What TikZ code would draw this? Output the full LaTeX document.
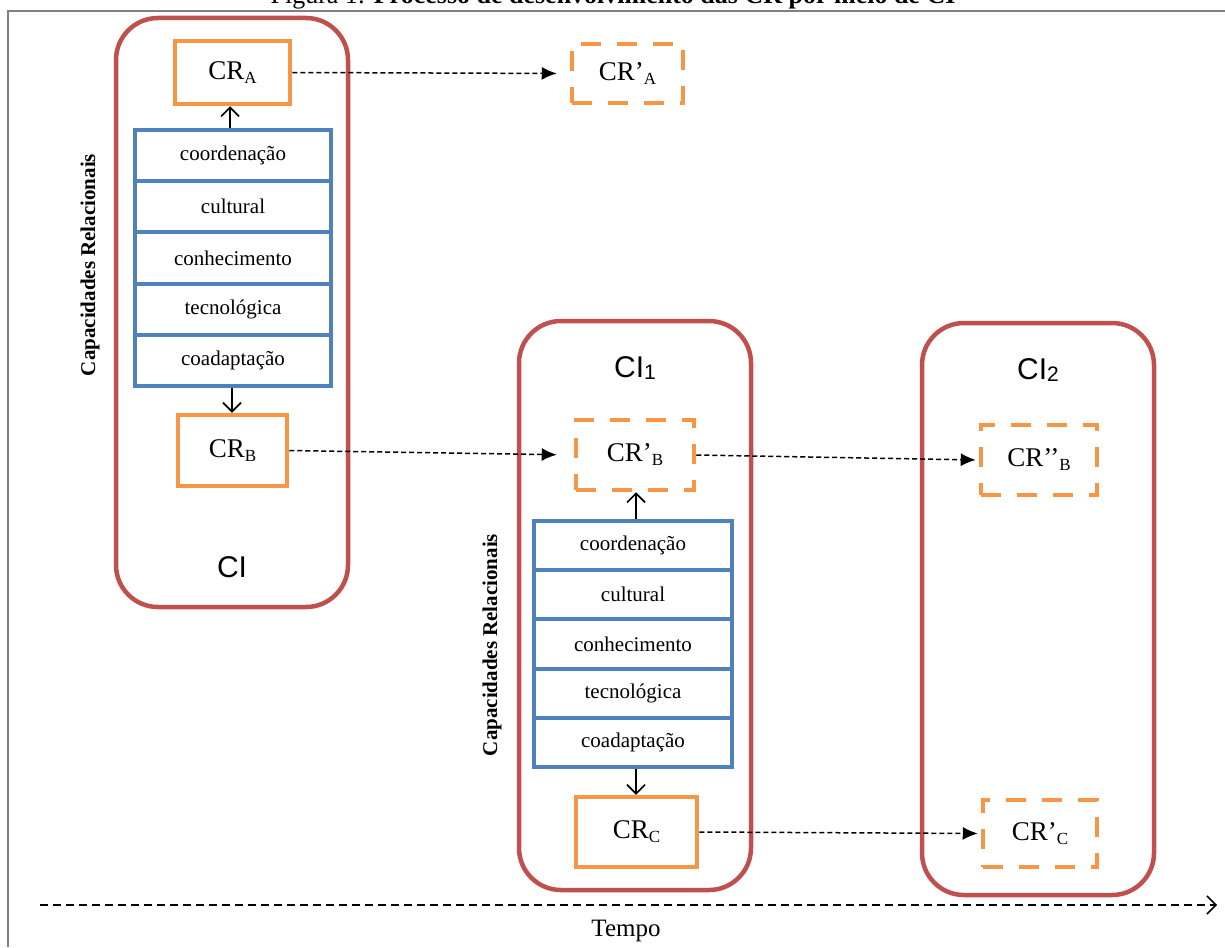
\documentclass[tikz,border=0pt]{standalone}
\usepackage{fontspec}
\setmainfont{Liberation Serif}
\newfontfamily\arialf{Liberation Sans}
\usetikzlibrary{arrows.meta}
\definecolor{cired}{RGB}{192,80,77}
\definecolor{crorange}{RGB}{247,150,70}
\definecolor{capblue}{RGB}{79,129,189}
\definecolor{framegray}{RGB}{128,128,128}
\newcommand\crsub[1]{\raisebox{-4pt}{\fontsize{17}{17}\selectfont #1}}
\newcommand\cisub[1]{\raisebox{-2pt}{\fontsize{21}{21}\selectfont #1}}
\begin{document}
\begin{tikzpicture}[x=1pt,y=-1pt,
 cibox/.style={draw=cired,line width=4.5pt,rounded corners=42pt,inner sep=0pt},
 crbox/.style={draw=crorange,line width=4.5pt,inner sep=0pt,font=\fontsize{27}{32}\selectfont},
 crdash/.style={crbox,dash pattern=on 20pt off 16pt},
 caprow/.style={draw=capblue,line width=4pt,inner sep=0pt,font=\fontsize{21}{25}\selectfont},
 link/.style={dash pattern=on 5pt off 3pt,line width=1.5pt,-{Latex[length=15pt,width=13pt]}},
 solidarrow/.style={line width=1.6pt,-{Straight Barb[length=9pt,width=18pt]}},
 timeaxis/.style={dash pattern=on 8pt off 5pt,line width=1.5pt,-{Straight Barb[length=9pt,width=18pt]}},
 sidelab/.style={rotate=90,font=\fontsize{21}{25}\selectfont\bfseries},
 cilab/.style={font=\arialf\fontsize{30}{35}\selectfont},
]
\useasboundingbox (0,0) rectangle (1225,947);
% frame and title
\draw[framegray,line width=2pt] (8,947) -- (8,11) -- (1225,11);
\node[anchor=base,font=\fontsize{26}{30}\selectfont,inner sep=0pt] (title) at (613,4)
  {Figura 1: \textbf{Processo de desenvolvimento das CR por meio de CI}};

% ---- CI ----
\node[cibox,minimum width=232pt,minimum height=589pt] (ci0) at (232,312.5) {};
\node[crbox,minimum width=115pt,minimum height=63pt] (cra) at (232.5,72.5) {CR\crsub{A}};
\foreach \t [count=\i] in {coordenação,cultural,conhecimento,tecnológica,coadaptação}
  \node[caprow,minimum width=196pt,minimum height=51.2pt] (sa\i) at (233,{130+51.2*(\i-0.5)}) {\t};
\node[crbox,minimum width=109pt,minimum height=71pt] (crb) at (232.5,450.5) {CR\crsub{B}};
\node[cilab] (cil0) at (232,567) {CI};
\node[sidelab] (cap1) at (90,265) {Capacidades Relacionais};
\draw[solidarrow] ([xshift=-3pt]sa1.north) -- ([xshift=-3pt]sa1.north |- cra.south);
\draw[solidarrow] ([xshift=-1pt]sa5.south) -- ([xshift=-1pt]sa5.south |- crb.north);

\node[crdash,minimum width=111pt,minimum height=59pt] (cra1) at (627.5,73.5) {CR’\crsub{A}};

% ---- CI1 ----
\node[cibox,minimum width=232pt,minimum height=569pt] (ci1) at (635,605.5) {};
\node[cilab] (cil1) at (635,368) {CI\cisub{1}};
\node[crdash,minimum width=118pt,minimum height=70pt] (crb1) at (635,455) {CR’\crsub{B}};
\foreach \t [count=\i] in {coordenação,cultural,conhecimento,tecnológica,coadaptação}
  \node[caprow,minimum width=198pt,minimum height=49.2pt] (sb\i) at (633,{521+49.2*(\i-0.5)}) {\t};
\node[crbox,minimum width=121pt,minimum height=70pt] (crc) at (636.5,832) {CR\crsub{C}};
\node[sidelab] (cap2) at (492,645) {Capacidades Relacionais};
\draw[solidarrow] ([xshift=3pt]sb1.north) -- ([xshift=3pt]sb1.north |- crb1.south);
\draw[solidarrow] ([xshift=3pt]sb5.south) -- ([xshift=3pt]sb5.south |- crc.north);

% ---- CI2 ----
\node[cibox,minimum width=232pt,minimum height=572pt] (ci2) at (1038,609) {};
\node[cilab] (cil2) at (1038,370) {CI\cisub{2}};
\node[crdash,minimum width=116pt,minimum height=70pt] (crb2) at (1039,460) {CR’’\crsub{B}};
\node[crdash,minimum width=114pt,minimum height=67pt] (crc1) at (1040,833.5) {CR’\crsub{C}};

% ---- links ----
\draw[link,shorten >=13pt] (cra.east) -- (cra1.west);
\draw[link,shorten >=17pt] (crb.east) -- (crb1.west);
\draw[link,shorten >=3pt] (crb1.east) -- (crb2.west);
\draw[link,shorten >=3pt] (crc.east) -- (crc1.west);

% ---- time axis ----
\coordinate (t0) at (40,905);
\coordinate (t1) at (1217,905);
\draw[timeaxis] (t0) -- (t1);
\node[font=\fontsize{25}{29}\selectfont] (tempo) at (626,931) {Tempo};
\end{tikzpicture}
\end{document}
